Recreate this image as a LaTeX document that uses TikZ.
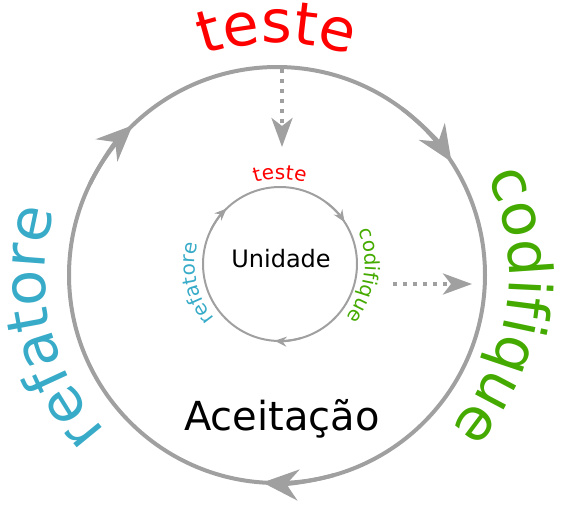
\documentclass[tikz,border=0pt]{standalone}
\usepackage{fontspec}
\setmainfont{DejaVu Sans}
\usetikzlibrary{arrows.meta,decorations.text}
\definecolor{cyclegray}{HTML}{A0A0A0}
\definecolor{testered}{HTML}{FF0000}
\definecolor{codegreen}{HTML}{44AA00}
\definecolor{refablue}{HTML}{37ABC8}
\newcommand{\bigloop}{\fontsize{59}{59}\selectfont}
\newcommand{\smallloop}{\fontsize{20}{20}\selectfont}

\begin{document}
\begin{tikzpicture}[x=1pt,y=1pt,
    outer/.style={draw=cyclegray,line width=4pt},
    inner/.style={draw=cyclegray,line width=2pt},
    outertip/.style={outer,-{Stealth[length=36pt,width=31pt,inset=12pt]}},
    innertip/.style={inner,-{Stealth[length=12pt,width=10pt,inset=4pt]}},
    dotarrow/.style={draw=cyclegray,line width=4pt,dash pattern=on 4pt off 6pt,
        -{Stealth[length=29pt,width=21pt,inset=8pt]}},
    looptext/.style={decorate,decoration={text along path,text align=center,text={#1}}}]
    \useasboundingbox (-277,-242) rectangle (284,275);
    \coordinate (big) at (0,0);
    \coordinate (unit) at (3,11);
    \draw[outer] (big) circle[radius=208];
    \draw[inner] (unit) circle[radius=77];
    \foreach \a in {134,33,266}
    {
        \draw[outertip] ([shift={(\a+20:208)}]big) arc[start angle=\a+20,end angle=\a,radius=208];
        \draw[innertip] ([shift={(\a+20:77)}]unit) arc[start angle=\a+20,end angle=\a,radius=77];
    }
    \path[looptext={|\bigloop\color{testered}|teste}]
        ([shift={(140:232)}]big) arc[start angle=140,end angle=40,radius=232];
    \path[looptext={|\bigloop\color{codegreen}|codifique}]
        ([shift={(42:232)}]big) arc[start angle=42,end angle=-58,radius=232];
    \path[looptext={|\bigloop\color{refablue}|refatore}]
        ([shift={(243:232)}]big) arc[start angle=243,end angle=143,radius=232];
    \path[looptext={|\smallloop\color{testered}|teste}]
        ([shift={(140:85)}]unit) arc[start angle=140,end angle=40,radius=85];
    \path[looptext={|\smallloop\color{codegreen}|codifique}]
        ([shift={(62:85)}]unit) arc[start angle=62,end angle=-78,radius=85];
    \path[looptext={|\smallloop\color{refablue}|refatore}]
        ([shift={(263:85)}]unit) arc[start angle=263,end angle=123,radius=85];
    \node (unidade) at (4,8) [anchor=base,font=\fontsize{24}{24}\selectfont] {Unidade};
    \node (aceitacao) at (5,-155) [anchor=base,font=\fontsize{40}{40}\selectfont] {Aceitação};
    \coordinate (outtop) at (5,206);
    \coordinate (downtip) at (5,128);
    \coordinate (sideout) at (116,-9);
    \coordinate (sidetip) at (195,-9);
    \draw[dotarrow] (outtop) -- (downtip);
    \draw[dotarrow] (sideout) -- (sidetip);
\end{tikzpicture}
\end{document}
